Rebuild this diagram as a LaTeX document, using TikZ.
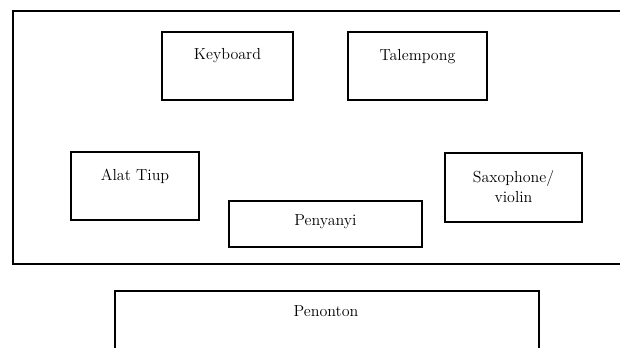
\documentclass[tikz,border=0pt]{standalone}
\begin{document}
\begin{tikzpicture}[x=0.75pt,y=-0.75pt,
  box/.style={draw=black,line width=1.5pt,rectangle,inner sep=0pt},
  lbl/.style={font=\fontsize{12}{15}\selectfont,align=center,inner sep=0pt}]
\useasboundingbox (0,0) rectangle (620,347);
\fill[white] (0,0) rectangle (620,347);
% stage
\node[box,anchor=north west,minimum width=630*0.75pt,minimum height=253*0.75pt] (stage) at (12,10) {};
% instruments
\node[box,minimum width=131*0.75pt,minimum height=68*0.75pt] (kb) at (227.5,66) {};
\node[lbl] (kbt) at (227.5,56) {Keyboard};
\node[box,minimum width=139*0.75pt,minimum height=68*0.75pt] (tal) at (417.5,66) {};
\node[lbl] (talt) at (417.5,57) {Talempong};
\node[box,minimum width=128*0.75pt,minimum height=68*0.75pt] (at) at (135,186) {};
\node[lbl] (att) at (135,176) {Alat Tiup};
\node[box,minimum width=193*0.75pt,minimum height=46*0.75pt] (pen) at (325.5,224) {};
\node[lbl] (pent) at (325.5,222) {Penyanyi};
\node[box,minimum width=137*0.75pt,minimum height=69*0.75pt] (sax) at (513.5,187.5) {};
\node[lbl] (saxt) at (513.5,187) {Saxophone/\\violin};
% audience
\node[box,anchor=north west,minimum width=424*0.75pt,minimum height=80*0.75pt] (aud) at (114,290) {};
\node[lbl] (audt) at (326,311) {Penonton};
\end{tikzpicture}
\end{document}
